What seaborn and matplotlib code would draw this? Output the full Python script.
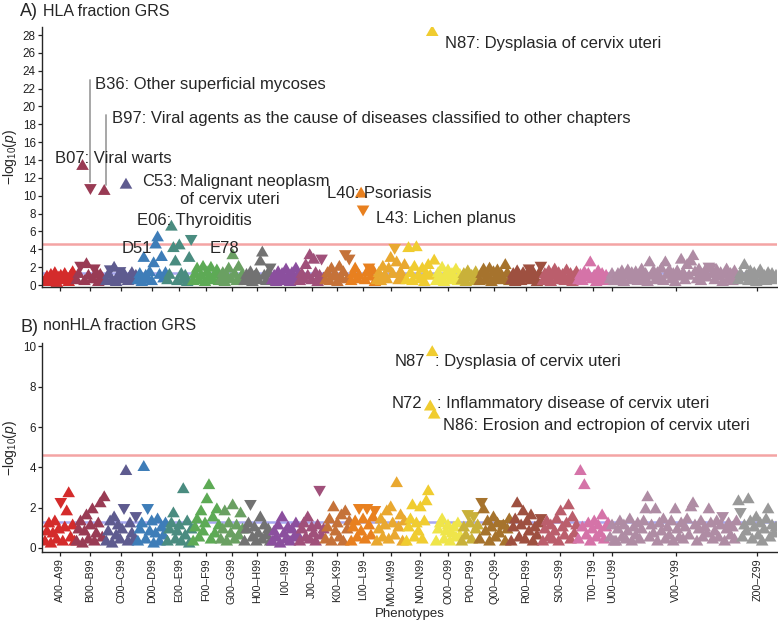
import numpy as np
import pandas as pd
import matplotlib
matplotlib.use("Agg")
import matplotlib.pyplot as plt
import seaborn as sns

# ICD-10 chapters, tick labels and colours
chapters = ["A", "B", "C", "D", "E", "F", "G", "H", "I", "J", "K", "L",
            "M", "N", "O", "P", "Q", "R", "S", "T", "U", "V", "Z"]
tick_labels = ["A00–A99", "B00–B99", "C00–C99", "D00–D99", "E00–E99", "F00–F99",
               "G00–G99", "H00–H99", "I00–I99", "J00–J99", "K00–K99", "L00–L99",
               "M00–M99", "N00–N99", "O00–O99", "P00–P99", "Q00–Q99", "R00–R99",
               "S00–S99", "T00–T99", "U00–U99", "V00–Y99", "Z00–Z99"]
colors = ["#D42B2B", "#993B54", "#5E5B8F", "#3E7DB8", "#4A8C80", "#5DAA55",
          "#6AA062", "#727272", "#8B4F9E", "#A0507A", "#C57239", "#E8801F",
          "#E9A830", "#F0CC30", "#EFE54A", "#C9B13A", "#A6732D", "#9E5040",
          "#BB5E6C", "#D573A8", "#B08DA6", "#AF8CA4", "#999999"]

# signed -log10(p): positive = up triangle, negative = down triangle
# A) HLA fraction GRS
hla_a = [0.4, 0.9, 0.3, 1.1, 0.6, 1.3, 0.2, 0.8, 1.0, 0.5, 1.2, 0.7, 0.3, 1.0, 1.4, 0.6]
hla_b = [0.5, 1.2, -2.2, 13.3, 0.4, 2.3, 1.0, -10.9, 0.6, -1.9, 1.3, 0.3, 1.1, 0.7, 10.5]
hla_c = [0.4, 1.1, -1.8, 0.5, 1.9, 0.3, 1.0, -1.6, 0.6, 1.2, 11.2, 0.4, 0.9, 1.3, 0.5, 1.0]
hla_d = [0.5, 1.2, 0.3, 3.0, 1.0, 0.6, 1.4, 0.4, 2.4, 4.5, 5.3, 1.1, 3.1, 0.7, 1.3]
hla_e = [0.5, 1.1, 6.5, 4.1, 2.6, 0.4, 4.4, 1.2, 0.6, 1.0, 0.3, 3.0, -5.2]
hla_f = [0.4, 1.2, 1.8, 0.5, 1.0, 2.0, 0.3, 1.4, 0.8, 1.9, 0.5, 1.1, 1.6, 0.4]
hla_g = [0.5, 1.3, 0.3, 1.0, 1.8, 0.6, 3.3, 1.2, 0.4, 2.0, 0.8, 1.1]
hla_h = [0.4, 1.1, 0.6, 1.4, 0.3, 0.9, 1.2, 0.5, 2.6, 3.6, 1.0, 0.4, 1.3, -2.0]
hla_i = [0.5, 1.0, 0.3, 1.4, 0.6, 1.2, 0.4, 1.7, 0.9, 0.3, 1.3, 0.6, 1.8, 1.0]
hla_j = [0.4, 1.2, 0.6, 2.2, 1.0, 3.3, 0.5, 2.8, 1.3, 0.3, 1.0, -3.0, 0.7]
hla_k = [0.5, 1.3, 0.4, 1.8, 0.9, 1.1, 0.3, 2.0, 0.7, 1.4, -3.5, 0.6, -3.0]
hla_l = [0.4, 1.2, 1.8, 0.6, 1.0, 10.2, -8.5, 0.5, 1.4, -2.0, 0.9, 1.6, 0.3]
hla_m = [0.5, 1.3, 0.4, 2.0, 1.0, 0.6, 1.8, 3.0, 1.2, -4.2, 2.5, 0.5, 1.4, 0.8, 2.2]
hla_n = [0.5, 4.1, 1.3, 0.4, 2.0, 4.2, 1.0, 0.6, 1.8, 0.3, 1.2, 2.2, 1.0, 28.3, 2.7]
hla_o = [0.4, 1.3, 0.7, 1.9, 0.3, 1.0, 1.6, 0.5, 1.2, 0.8, 1.7, 0.4, 1.1]
hla_p = [0.5, 1.2, 0.3, 1.5, 0.8, 1.0, 0.4, 1.4, 0.7]
hla_q = [0.4, 1.2, 1.7, 0.5, 1.0, 1.8, 0.3, 1.4, 0.8, 1.6, 0.5, 1.1, 0.6, 2.2, 1.3, 0.4]
hla_r = [0.5, 1.2, 0.3, 1.5, 0.9, 0.4, 1.3, 0.7, 1.1, -1.9, 0.5, 1.4, 0.8, 0.3, 1.2, -2.2]
hla_s = [0.4, 1.2, 0.6, 1.5, 0.3, 1.0, 1.7, 0.5, 1.3, 0.8, 1.1, 0.4, 1.6, 0.7, 1.2, 0.3, 1.0, 1.4]
hla_t = [0.5, 1.1, 0.4, 1.4, 0.8, 1.2, 2.5, 0.6, 1.0, 0.3, 1.5, 0.7, 1.2, 0.4, 1.0, 0.6]
hla_u = [0.6, 1.2, 0.4]
hla_v = [0.4, 1.2, 0.7, 1.5, 0.3, 1.0, 1.6, 0.5, 1.3, 0.8,
         1.4, 0.4, 1.1, 1.7, 0.6, 1.2, 0.3, 2.5, 1.0, 1.5,
         0.5, 1.3, 0.8, 1.8, 0.4, 2.5, 1.1, 1.6, 0.6, 1.2,
         0.3, 1.5, 0.9, 2.8, 1.3, 0.5, 2.2, 1.0, 2.6, 3.2,
         1.4, 0.6, 1.7, 0.4, 1.1, 1.5, 0.8, -2.1, -2.0, 1.2,
         0.5, 1.6, 0.9, 1.3, 0.3, 1.1, 1.7, 0.6, 1.2, 0.4, 1.5, 0.8]
hla_z = [0.5, 1.2, 0.8, 2.2, 1.0, 0.4, 1.5, 0.7, 1.3, 0.3, 1.1, 1.6, 0.6, 1.0, 0.4, 1.3, 0.8, 1.2, 0.5, 1.0]

# B) nonHLA fraction GRS
non_a = [0.3, 0.8, 1.2, 0.2, 0.7, 1.3, 0.4, 0.9, -2.3, 0.3, 1.0, 1.8, 2.7, 0.5, 1.1, 0.3]
non_b = [0.3, 0.9, 1.3, 0.2, 0.8, 1.6, 0.4, 1.1, 1.9, 0.3, 0.7, 1.2, 2.2, 0.5, 2.5]
non_c = [0.3, 0.8, 1.3, 0.2, 1.5, 0.6, 1.1, 0.4, 0.9, -2.0, 3.8, 0.3, 1.2, 0.7, 0.4, -1.6]
non_d = [0.3, 0.9, 1.2, 4.0, 0.4, -2.0, 0.8, 1.3, 0.2, 0.7, 1.4, 0.3, 1.0, 0.6, 1.2]
non_e = [0.3, 0.9, 1.2, 1.7, 0.4, 0.8, 1.1, 0.3, 2.9, 0.6, 1.3, 0.2, 0.9]
non_f = [0.3, 1.0, 1.4, 0.5, 1.8, 0.8, 1.2, 2.4, 3.1, 0.4, 1.5, 0.7, 1.9, 1.1]
non_g = [0.4, 0.9, 1.8, 0.3, 1.2, 0.7, 2.1, 0.4, 1.1, 0.6, 1.7, 0.9]
non_h = [0.3, 0.9, 1.2, -2.2, 0.5, 1.0, 0.3, 0.7, 1.5, 0.4, 1.1, 0.6, 0.9, 0.3]
non_i = [0.3, 0.8, 0.5, 1.1, 0.2, 1.5, 0.7, 0.4, 1.0, 0.3, 0.9, 0.5, 1.2, 0.6]
non_j = [0.3, 0.9, 1.2, 0.5, 1.5, 0.4, 1.0, 0.7, 0.3, 1.1, -2.9, 0.6, 0.9]
non_k = [0.4, 1.0, 1.4, 0.3, 2.0, 0.8, 1.2, 0.5, 1.6, 0.3, 1.8, 0.9, 1.3]
non_l = [0.3, 1.0, 1.3, 0.5, -2.0, 0.8, 1.4, 0.4, -2.0, 1.1, 0.6, 1.5, -1.9]
non_m = [0.3, 0.9, 1.4, 0.5, 1.1, 1.8, 0.4, 2.0, 1.2, 0.6, 3.2, 1.0, 1.6, 0.3, 1.3]
non_n = [0.3, 1.0, 1.4, 2.1, 0.5, 1.2, 0.8, 2.0, 0.4, 1.3, 2.3, 2.8, 7.0, 9.7, 6.6]
non_o = [0.3, 0.9, 1.2, 1.4, 0.4, 0.8, 1.1, 0.3, 0.7, 1.0, 0.5, 1.2, 0.6]
non_p = [0.3, 1.0, 0.6, -1.7, 1.2, 0.4, -1.6, 0.9, 1.1]
non_q = [0.4, -2.3, 1.9, 0.8, 1.3, 0.3, 1.0, 1.5, 0.5, 1.2, 0.7, -1.2, 1.1, 0.3, 0.9, 1.4]
non_r = [0.3, 1.0, 1.4, 2.2, 0.5, 1.1, 1.8, 0.4, 1.3, 0.8, 1.6, 0.3, 1.0, 0.6, 1.2, -1.5]
non_s = [0.3, 0.9, 1.3, 0.5, 1.1, 0.4, 0.8, 1.4, 0.3, 1.8, 1.0, 0.6, 1.2, 2.1, 0.4, 1.5, 0.7, 1.1]
non_t = [0.4, 3.8, 1.0, 3.1, 0.6, 1.2, 0.3, 0.9, 1.3, 0.5, 1.1, 0.7, 1.6, 0.4, 1.0, 1.2]
non_u = [0.5, 1.1, 0.3]
non_v = [0.3, 0.9, 1.3, 0.5, 1.1, 0.4, 0.8, 1.4, 0.3, 1.0,
         0.6, 1.2, 0.4, 0.9, 1.3, 1.9, 2.5, 0.5, 1.1, 0.7,
         1.9, 0.3, 1.2, 0.8, 1.4, 0.4, 1.0, 0.6, 1.3, 0.3,
         1.9, 0.9, 0.5, 1.2, 0.4, 1.0, 1.4, 0.6, 2.0, 2.2,
         1.1, 0.3, 0.9, 1.3, 0.5, 1.0, 0.7, 1.9, 1.2, 0.4,
         0.8, 1.3, 0.5, 1.1, -1.6, 0.3, 0.9, 1.2, 0.6, 1.0, 0.4, 1.3]
non_z = [2.3, -1.8, 0.5, 1.1, 0.8, 2.4, 1.3, 0.4, 1.0, 1.5, 0.6, 1.2, 0.3, 0.9, 1.4, 1.9, 0.5, 1.1, 0.7, 1.0]

hla_vals = [hla_a, hla_b, hla_c, hla_d, hla_e, hla_f, hla_g, hla_h, hla_i, hla_j, hla_k, hla_l,
            hla_m, hla_n, hla_o, hla_p, hla_q, hla_r, hla_s, hla_t, hla_u, hla_v, hla_z]
non_vals = [non_a, non_b, non_c, non_d, non_e, non_f, non_g, non_h, non_i, non_j, non_k, non_l,
            non_m, non_n, non_o, non_p, non_q, non_r, non_s, non_t, non_u, non_v, non_z]


def build(values):
    rows = []
    pos = 0
    for ch, vals in zip(chapters, values):
        for v in vals:
            rows.append((pos, ch, abs(v), "up" if v > 0 else "down"))
            pos += 1
    return pd.DataFrame(rows, columns=["pos", "chapter", "logp", "direction"])


for a, b in zip(hla_vals, non_vals):
    assert len(a) == len(b)

df_hla = build(hla_vals)
df_non = build(non_vals)
ticks = df_hla.groupby("chapter", sort=False)["pos"].mean().values

sns.set_style("ticks")
plt.rcParams["font.family"] = ["Liberation Sans", "DejaVu Sans"]
plt.rcParams["mathtext.fontset"] = "custom"
plt.rcParams["mathtext.rm"] = "Liberation Sans"
plt.rcParams["mathtext.it"] = "Liberation Sans:italic"

palette = dict(zip(chapters, colors))
# equilateral triangles like ggplot's filled triangle shapes
tri_up = [(-1.0, -0.577), (1.0, -0.577), (0.0, 1.155)]
tri_down = [(-1.0, 0.577), (1.0, 0.577), (0.0, -1.155)]
markers = {"up": tri_up, "down": tri_down}
ylab = r"$-\mathrm{log}_{10}(\mathit{p})$"

fig = plt.figure(figsize=(7.78, 6.25), dpi=100)
ax1 = fig.add_axes([0.054, 0.5408, 0.9447, 0.416])
ax2 = fig.add_axes([0.054, 0.1168, 0.9447, 0.3344])

for ax, df in [(ax1, df_hla), (ax2, df_non)]:
    ax.axhline(4.6, color="#F4A4A4", lw=1.8, zorder=0)
    ax.axhline(1.3, color="#A8A8F0", lw=1.8, zorder=0)
    sns.scatterplot(data=df, x="pos", y="logp", hue="chapter", style="direction",
                    palette=palette, markers=markers, s=110, linewidth=0,
                    legend=False, ax=ax, zorder=2)
    ax.set_xlim(-1.5, 370.5)
    ax.set_xticks(ticks)
    sns.despine(ax=ax)
    ax.tick_params(axis="both", length=3, width=0.9, colors="#222222", pad=1.5)
    ax.tick_params(axis="y", labelsize=8.4)
    for sp in ax.spines.values():
        sp.set_linewidth(1.0)
    ax.set_ylabel(ylab, fontsize=10)
    ax.yaxis.set_label_coords(-0.031, 0.5)

ax1.set_ylim(-0.22, 28.9)
ax1.set_yticks(np.arange(0, 29, 2))
ax1.set_xticklabels([])
ax1.set_xlabel("")

ax2.set_ylim(-0.2, 10.17)
ax2.set_yticks(np.arange(0, 11, 2))
ax2.set_xticklabels(tick_labels, rotation=90, fontsize=7.7)
ax2.set_xlabel("Phenotypes", fontsize=9.5, labelpad=2)

fs = 12
# panel A labels
ax1.text(202.4, 27.1, "N87: Dysplasia of cervix uteri", fontsize=fs, va="center")
ax1.text(25.3, 22.5, "B36: Other superficial mycoses", fontsize=fs, va="center")
ax1.text(33.9, 18.7, "B97: Viral agents as the cause of diseases classified to other chapters",
         fontsize=fs, va="center")
ax1.text(5.1, 14.2, "B07: Viral warts", fontsize=fs, va="center")
ax1.text(49.1, 11.65, "C53:", fontsize=fs, va="center")
ax1.text(68.3, 11.65, "Malignant neoplasm", fontsize=fs, va="center")
ax1.text(68.3, 9.63, "of cervix uteri", fontsize=fs, va="center")
ax1.text(142.7, 10.3, "L40: Psoriasis", fontsize=fs, va="center")
ax1.text(167.5, 7.5, "L43: Lichen planus", fontsize=fs, va="center")
ax1.text(46.6, 7.28, "E06: Thyroiditis", fontsize=fs, va="center")
ax1.text(39.0, 4.14, "D51", fontsize=fs, va="center")
ax1.text(83.5, 4.14, "E78", fontsize=fs, va="center")
ax1.plot([23, 23], [11.5, 23.0], color="#A0A0A0", lw=1.3, zorder=1)
ax1.plot([31, 31], [11.2, 19.0], color="#A0A0A0", lw=1.3, zorder=1)

# panel B labels
ax2.text(192.3, 9.24, "N87", fontsize=fs, va="center", ha="right")
ax2.text(197.4, 9.24, ": Dysplasia of cervix uteri", fontsize=fs, va="center")
ax2.text(190.8, 7.15, "N72", fontsize=fs, va="center", ha="right")
ax2.text(198.4, 7.15, ": Inflammatory disease of cervix uteri", fontsize=fs, va="center")
ax2.text(201.4, 6.06, "N86: Erosion and ectropion of cervix uteri", fontsize=fs, va="center")

# panel titles
fig.text(20 / 778, 1 - 12 / 625, "A)", fontsize=13, va="center")
fig.text(43 / 778, 1 - 11 / 625, "HLA fraction GRS", fontsize=11.5, va="center")
fig.text(20 / 778, 1 - 327 / 625, "B)", fontsize=13, va="center")
fig.text(43 / 778, 1 - 326 / 625, "nonHLA fraction GRS", fontsize=11.5, va="center")

fig.savefig("out.png", dpi=100)
